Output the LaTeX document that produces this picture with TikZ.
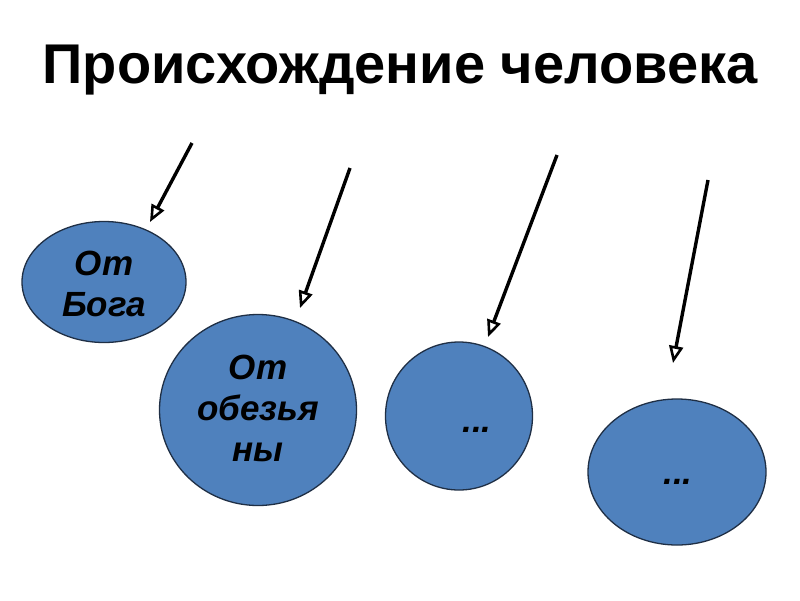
\documentclass[tikz,border=0pt]{standalone}
\usepackage{fontspec}
\setmainfont{Liberation Sans}
\usetikzlibrary{arrows.meta,shapes.geometric}
\definecolor{ink}{HTML}{000000}
\definecolor{bubble}{HTML}{4F81BD}
\definecolor{rim}{HTML}{1F2F45}

\begin{document}
\begin{tikzpicture}[
  x=1pt,y=-1pt,
  title/.style={font=\bfseries\fontsize{56}{62}\selectfont,text=ink},
  bub/.style={ellipse,fill=bubble,draw=rim,line width=1.3pt,inner sep=0pt},
  lbl/.style={font=\bfseries\itshape\fontsize{35}{41}\selectfont,text=ink,align=center},
  pointer/.style={-{Triangle[open,length=17pt,width=14pt,line width=2.6pt]},line width=3.4pt,draw=ink}
]
\useasboundingbox[fill=white] (0,0) rectangle (800,600);
\node[title] (head) at (400,70) {Происхождение человека};

% Bubbles
\node[bub,minimum width=164,minimum height=121] (bog) at (104,282) {};
\node[lbl] at (104,284) {От\\Бога};
\node[bub,minimum width=197,minimum height=191] (ape) at (258,410) {};
\node[lbl] at (258,408) {От\\обезья\\ны};
\node[bub,minimum width=147,minimum height=148] (third) at (459,416) {};
\node[lbl] at (477,430) {...};
\node[bub,minimum width=178,minimum height=146] (fourth) at (677,472) {};
\node[lbl] at (678,482) {...};

% Arrows
\coordinate (s1) at (192,143); \coordinate (t1) at (150,222);
\coordinate (s2) at (350,168); \coordinate (t2) at (300,308);
\coordinate (s3) at (557,155); \coordinate (t3) at (488,337);
\coordinate (s4) at (708,180); \coordinate (t4) at (673,363);
\foreach \i in {1,...,4} {
  \draw[pointer] (s\i) -- (t\i);
}
\end{tikzpicture}
\end{document}
